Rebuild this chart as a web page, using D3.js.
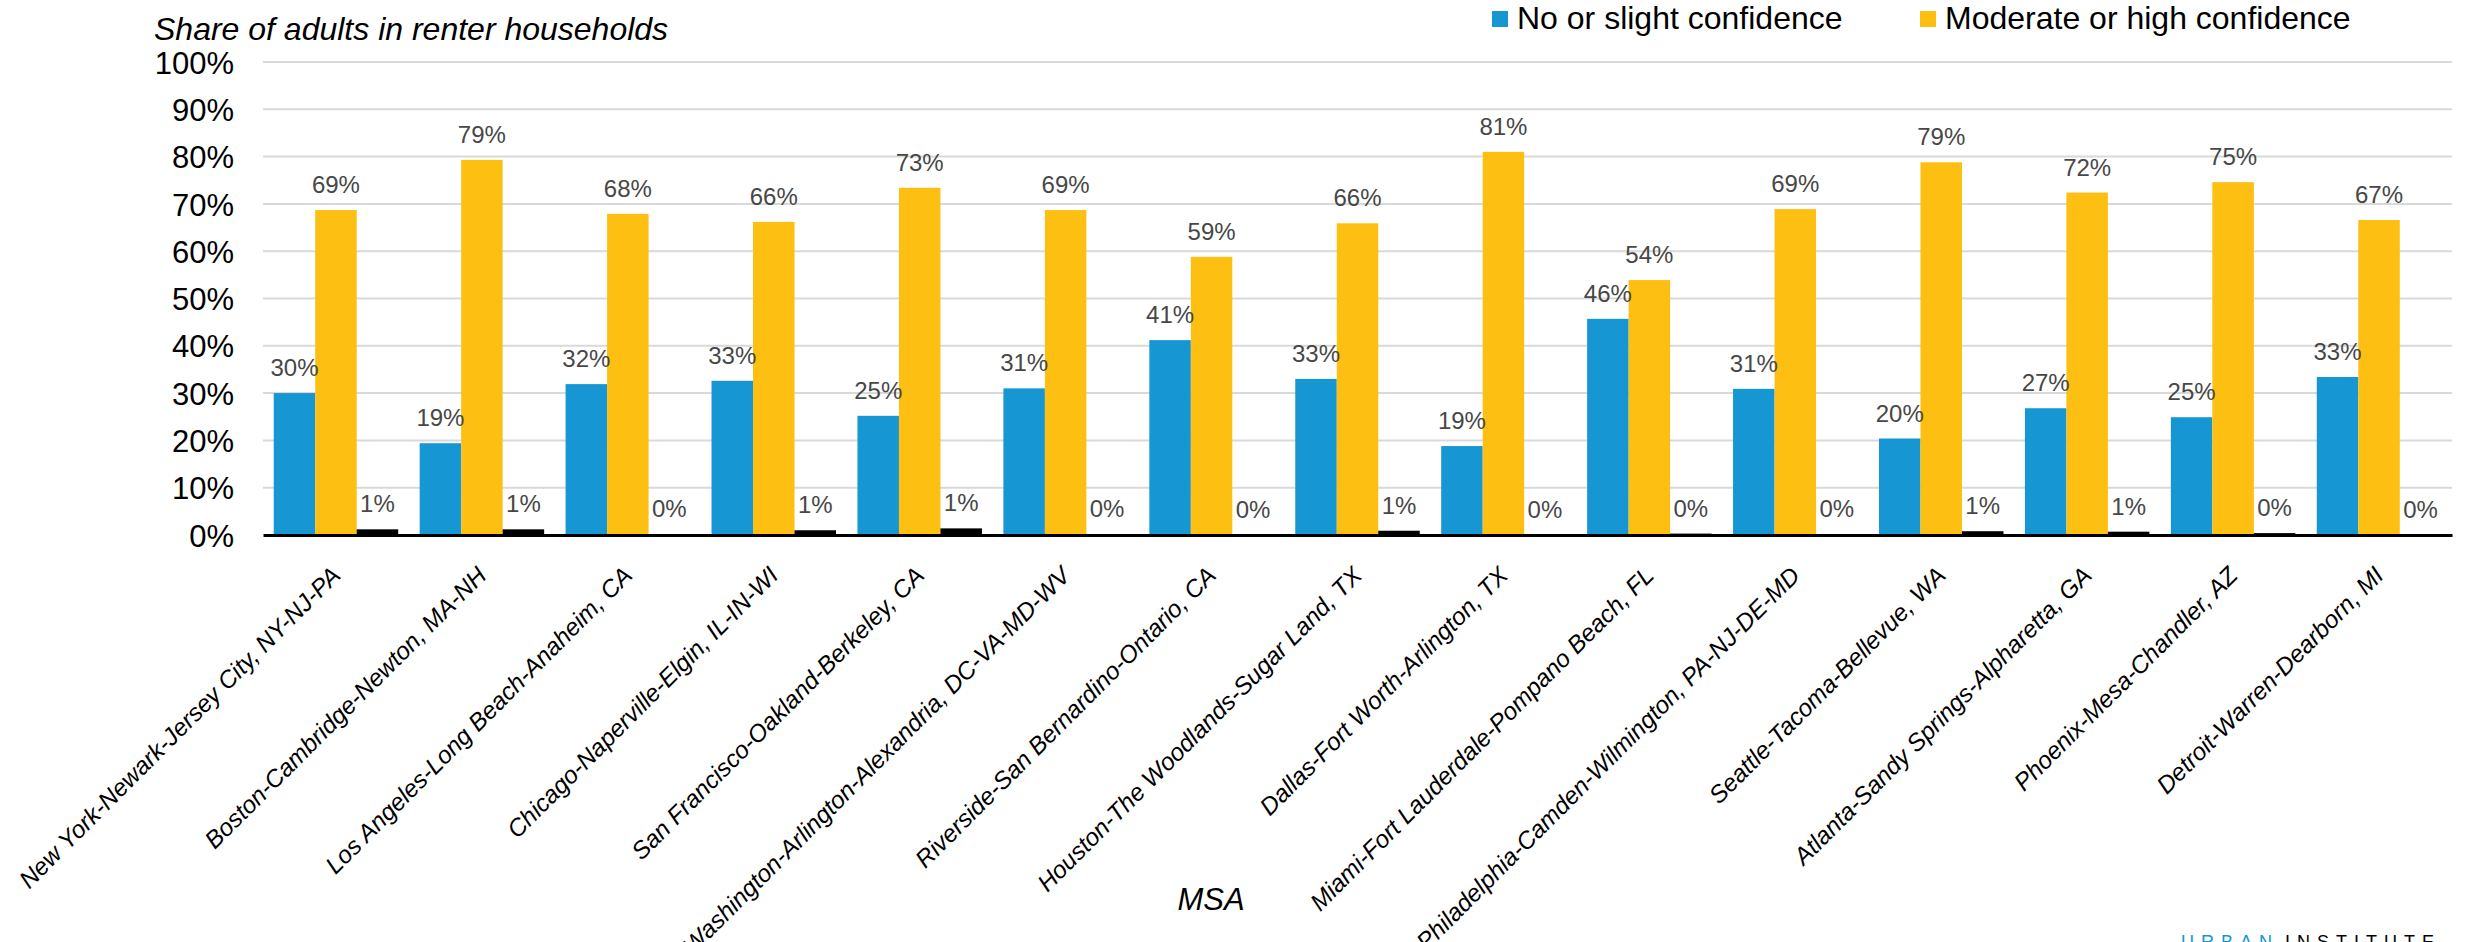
<!DOCTYPE html>
<html>
<head>
<meta charset="utf-8">
<script src="https://cdn.jsdelivr.net/npm/d3@7"></script>
<style>
  html, body { margin: 0; padding: 0; background: #fff; }
  svg { display: block; font-family: "Liberation Sans", Arial, sans-serif; }
</style>
</head>
<body>
<svg id="chart" width="2465" height="942"></svg>
<script>
// ---- data ----
const categories = [
  "New York-Newark-Jersey City, NY-NJ-PA",
  "Boston-Cambridge-Newton, MA-NH",
  "Los Angeles-Long Beach-Anaheim, CA",
  "Chicago-Naperville-Elgin, IL-IN-WI",
  "San Francisco-Oakland-Berkeley, CA",
  "Washington-Arlington-Alexandria, DC-VA-MD-WV",
  "Riverside-San Bernardino-Ontario, CA",
  "Houston-The Woodlands-Sugar Land, TX",
  "Dallas-Fort Worth-Arlington, TX",
  "Miami-Fort Lauderdale-Pompano Beach, FL",
  "Philadelphia-Camden-Wilmington, PA-NJ-DE-MD",
  "Seattle-Tacoma-Bellevue, WA",
  "Atlanta-Sandy Springs-Alpharetta, GA",
  "Phoenix-Mesa-Chandler, AZ",
  "Detroit-Warren-Dearborn, MI"
];
const noConfidence = [30.0, 19.4, 31.9, 32.6, 25.2, 31.0, 41.2, 33.0, 18.8, 45.7, 30.9, 20.4, 26.8, 24.9, 33.4];
const highConfidence = [68.7, 79.3, 67.9, 66.2, 73.4, 68.7, 58.8, 65.9, 81.0, 53.9, 68.9, 78.8, 72.4, 74.6, 66.6];
const otherResponse = [1.2, 1.2, 0.2, 1.0, 1.4, 0.2, 0.1, 0.9, 0.1, 0.3, 0.2, 0.8, 0.7, 0.4, 0.1];
const seriesNames = ["No or slight confidence", "Moderate or high confidence", "Other"];
const legendNames = ["No or slight confidence", "Moderate or high confidence"];
const yTicks = [0, 10, 20, 30, 40, 50, 60, 70, 80, 90, 100];
const yTitle = "Share of adults in renter households";
const xTitle = "MSA";

// ---- layout ----
const colors = ["#1696d2", "#fdbf11", "#000000"];
const plotLeft = 263, plotRight = 2452, plotTop = 62, plotBottom = 535;
const svg = d3.select("#chart");

const x0 = d3.scaleBand().domain(categories).range([plotLeft, plotRight])
  .paddingInner(0.147).paddingOuter(0.0735);
const x1 = d3.scaleBand().domain(seriesNames).range([0, x0.bandwidth()]).padding(0);
const y = d3.scaleLinear().domain([0, 100]).range([plotBottom, plotTop]);

const rows = categories.map((c, i) => ({
  cat: c,
  vals: [noConfidence[i], highConfidence[i], otherResponse[i]]
}));

// gridlines
svg.append("g").selectAll("line")
  .data(yTicks.filter(t => t > 0))
  .join("line")
  .attr("x1", plotLeft).attr("x2", plotRight)
  .attr("y1", d => y(d)).attr("y2", d => y(d))
  .attr("stroke", "#d9d9d9").attr("stroke-width", 2);

// y axis
const yAxis = svg.append("g").attr("transform", `translate(${plotLeft},0)`)
  .call(d3.axisLeft(y).tickValues(yTicks).tickFormat(d => d + "%").tickSize(0).tickPadding(29));
yAxis.select(".domain").remove();
yAxis.selectAll("text")
  .attr("font-family", "'Liberation Sans', Arial, sans-serif")
  .attr("font-size", 31).attr("fill", "#000").attr("dy", "0.36em");

// bars
const groups = svg.append("g").selectAll("g")
  .data(rows).join("g")
  .attr("transform", d => `translate(${x0(d.cat)},0)`);

groups.selectAll("rect")
  .data(d => d.vals.map((v, j) => ({ v, j })))
  .join("rect")
  .attr("x", d => x1(seriesNames[d.j]))
  .attr("width", x1.bandwidth())
  .attr("y", d => y(d.v))
  .attr("height", d => plotBottom - y(d.v))
  .attr("fill", d => colors[d.j]);

// data labels
const fmt = d3.format(".0%");
groups.selectAll("text")
  .data(d => d.vals.map((v, j) => ({ v, j })))
  .join("text")
  .attr("x", d => x1(seriesNames[d.j]) + x1.bandwidth() / 2)
  .attr("y", d => y(d.v) - 17)
  .attr("text-anchor", "middle")
  .attr("font-size", 24)
  .attr("fill", "#474747")
  .text(d => fmt(d.v / 100));

// x axis
const xAxis = svg.append("g").attr("transform", `translate(0,${plotBottom})`)
  .call(d3.axisBottom(x0).tickSize(0).tickSizeOuter(0).tickPadding(0));
xAxis.select(".domain").attr("stroke", "#000").attr("stroke-width", 3);
xAxis.selectAll(".tick text")
  .attr("font-family", "'Liberation Sans', Arial, sans-serif")
  .attr("font-size", 24.3).attr("font-style", "italic").attr("fill", "#000")
  .attr("text-anchor", "end")
  .attr("dy", null)
  .attr("y", null)
  .attr("transform", "translate(6,42) rotate(-45)");

// axis titles
svg.append("text")
  .attr("x", 154).attr("y", 40)
  .attr("font-size", 32).attr("font-style", "italic").attr("fill", "#000")
  .text(yTitle);
svg.append("text")
  .attr("x", 1211).attr("y", 910)
  .attr("text-anchor", "middle")
  .attr("font-size", 31).attr("font-style", "italic").attr("fill", "#000")
  .text(xTitle);

// legend
const legendX = [1492, 1920];
const legend = svg.append("g").selectAll("g")
  .data(legendNames).join("g")
  .attr("transform", (d, i) => `translate(${legendX[i]},0)`);
legend.append("rect")
  .attr("x", 0).attr("y", 11).attr("width", 16).attr("height", 16)
  .attr("fill", (d, i) => colors[i]);
legend.append("text")
  .attr("x", 25).attr("y", 29)
  .attr("font-size", 32).attr("fill", "#000")
  .text(d => d);

// logo
const logo = svg.append("text")
  .attr("x", 2181).attr("y", 948)
  .attr("font-size", 18).attr("letter-spacing", 7);
logo.append("tspan").attr("fill", "#1696d2").text("URBAN");
logo.append("tspan").attr("fill", "#000").attr("dx", 6).text("INSTITUTE");
</script>
</body>
</html>
